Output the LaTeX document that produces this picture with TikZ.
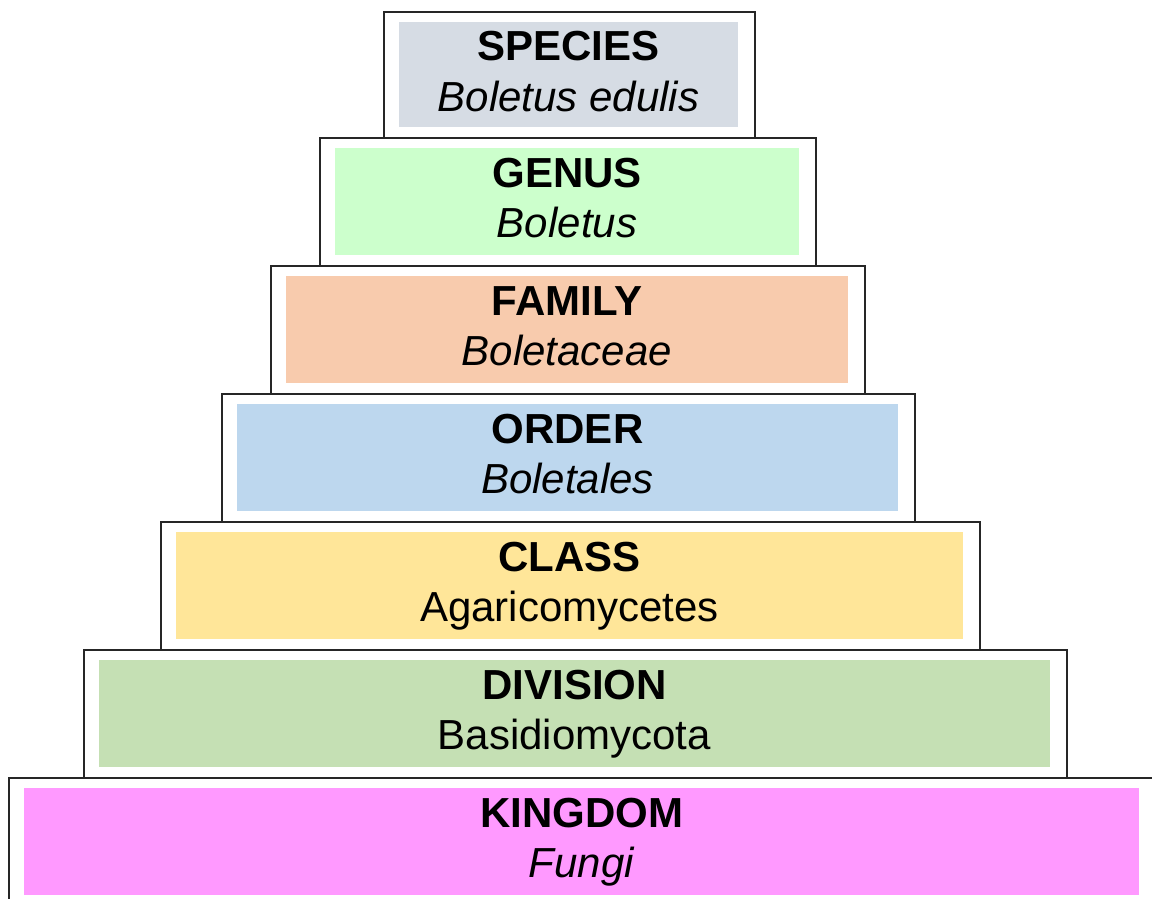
\documentclass[tikz,border=0pt]{standalone}
\usepackage{fontspec}
\setmainfont{Liberation Sans}
\definecolor{spc}{HTML}{D6DCE4}
\definecolor{gen}{HTML}{CCFFCC}
\definecolor{fam}{HTML}{F8CBAD}
\definecolor{ord}{HTML}{BDD7EE}
\definecolor{cls}{HTML}{FFE699}
\definecolor{dvs}{HTML}{C5E0B4}
\definecolor{kgd}{HTML}{FF99FF}
\begin{document}
\begin{tikzpicture}[x=1pt,y=-1pt,
  frame/.style={draw=black!85, line width=1.4pt, inner sep=0pt, outer sep=0pt, anchor=north west},
  band/.style={inner sep=0pt, outer sep=0pt, anchor=north west},
  rank/.style={font=\fontsize{42}{50}\selectfont\bfseries, anchor=base, inner sep=0pt},
  taxon/.style={font=\fontsize{42}{50}\selectfont, anchor=base, inner sep=0pt},
]
\clip (0,0) rectangle (1152,899);
\fill[white] (0,0) rectangle (1152,899);
% one step of the pyramid per line: name / left / right / top / height / fill / rank / taxon
\foreach \nm/\L/\R/\T/\H/\col/\rk/\tx in {
  species/384/755/12/126/spc/SPECIES/{\itshape Boletus edulis},
  genus/320/816/138/128/gen/GENUS/{\itshape Boletus},
  family/271/865/266/128/fam/FAMILY/{\itshape Boletaceae},
  order/222/915/394/128/ord/ORDER/{\itshape Boletales},
  class/161/980/522/128/cls/CLASS/{Agaricomycetes},
  division/84/1067/650/128/dvs/DIVISION/{Basidiomycota},
  kingdom/9/1156/778/128/kgd/KINGDOM/{\itshape Fungi}}
{
  \node[band, fill=\col, minimum width={(\R-\L-32)*1pt}, minimum height={(\H-21)*1pt}]
    (\nm-band) at (\L+15,\T+10) {};
  \node[frame, minimum width={(\R-\L)*1pt}, minimum height={\H*1pt}]
    (\nm-frame) at (\L,\T) {};
  \node[rank] (\nm-rank) at ({(\L+\R)/2-1},\T+49) {\rk};
  \node[taxon] (\nm-taxon) at ({(\L+\R)/2-1},\T+99) {\tx};
}
\end{tikzpicture}
\end{document}
